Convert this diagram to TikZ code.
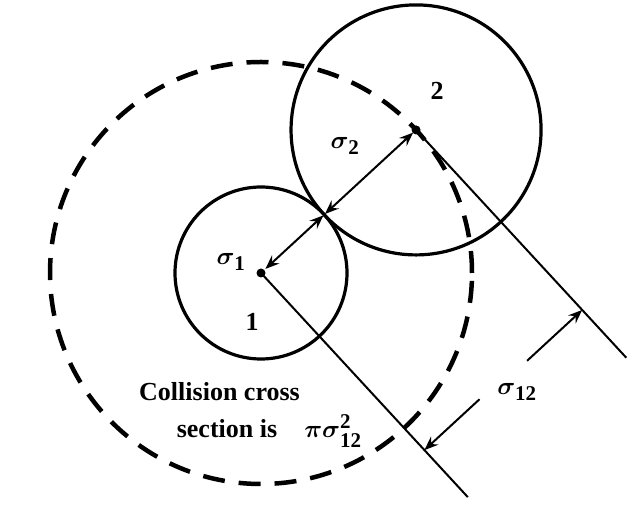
\documentclass[tikz,border=0pt]{standalone}
\usepackage{amsmath,amssymb}
\usepackage{fontspec}
\setmainfont{Liberation Serif}
\usepackage{tikz}
\usetikzlibrary{calc,arrows.meta}
\definecolor{ink}{HTML}{000000}
\tikzset{
  circ/.style={draw=ink, line width=3.2pt},
  dashedcirc/.style={draw=ink, line width=4.5pt, dash pattern=on 22pt off 14pt},
  line/.style={draw=ink, line width=2pt},
  dimarrow/.style={draw=ink, line width=2pt, -{Stealth[length=14pt,width=11pt,inset=5pt]}},
  twoarrow/.style={draw=ink, line width=2pt, {Stealth[length=14pt,width=11pt,inset=5pt]}-{Stealth[length=14pt,width=11pt,inset=5pt]}},
  dot/.style={circle, fill=ink, inner sep=0pt, minimum size=9pt},
  lbl/.style={text=ink, inner sep=1pt, font=\fontsize{26}{30}\selectfont\bfseries},
  mlabel/.style={text=ink, inner sep=1pt, font=\fontsize{30}{34}\selectfont}
}

\begin{document}
\begin{tikzpicture}[x=1pt,y=1pt]
  \useasboundingbox (0,0) rectangle (643,527);
  \coordinate (C1) at (261,254);
  \coordinate (C2) at ($(C1)+(42.7:211)$);
  \coordinate (T) at ($(C1)+(42.7:86)$);
  \coordinate (E1) at ($(C1)+(-47.3:305)$);
  \coordinate (E2) at ($(C2)+(-47.3:310)$);
  \coordinate (D1) at ($(C1)+(-47.3:241)$);
  \coordinate (D2) at ($(C2)+(-47.3:245)$);
  \coordinate (F1) at ($(D1)+(42.7:75)$);
  \coordinate (F2) at ($(D2)+(222.7:75)$);

  \draw[dashedcirc] (C1) circle (211);
  \draw[circ] (C1) circle (86);
  \draw[circ] (C2) circle (125);
  \draw[line] (C1)--(E1);
  \draw[line] (C2)--(E2);

  \draw[twoarrow, shorten <=1pt, shorten >=6pt] (T)--(C1);
  \draw[twoarrow, shorten <=1pt, shorten >=4pt] (T)--(C2);
  \draw[dimarrow] (F1)--(D1);
  \draw[dimarrow] (F2)--(D2);

  \node[dot] (dot1) at (C1) {};
  \node[dot] (dot2) at (C2) {};

  \node[mlabel] (sig1) at (231,265) {$\boldsymbol{\sigma}_{\mathbf{1}}$};
  \node[mlabel] (sig2) at (345,381) {$\boldsymbol{\sigma}_{\mathbf{2}}$};
  \node[mlabel] (sig12) at (517,135) {$\boldsymbol{\sigma}_{\mathbf{12}}$};
  \node[lbl] (one) at (252,205) {1};
  \node[lbl] (two) at (437,436) {2};
  \node[lbl, anchor=base] (cc1) at (219.5,126) {Collision cross};
  \node[lbl, anchor=base] (cc2) at (227,89) {section is};
  \node[mlabel, anchor=base] (area) at (333,89) {$\boldsymbol{\pi\sigma}^{\mathbf{2}}_{\mathbf{12}}$};
\end{tikzpicture}
\end{document}
